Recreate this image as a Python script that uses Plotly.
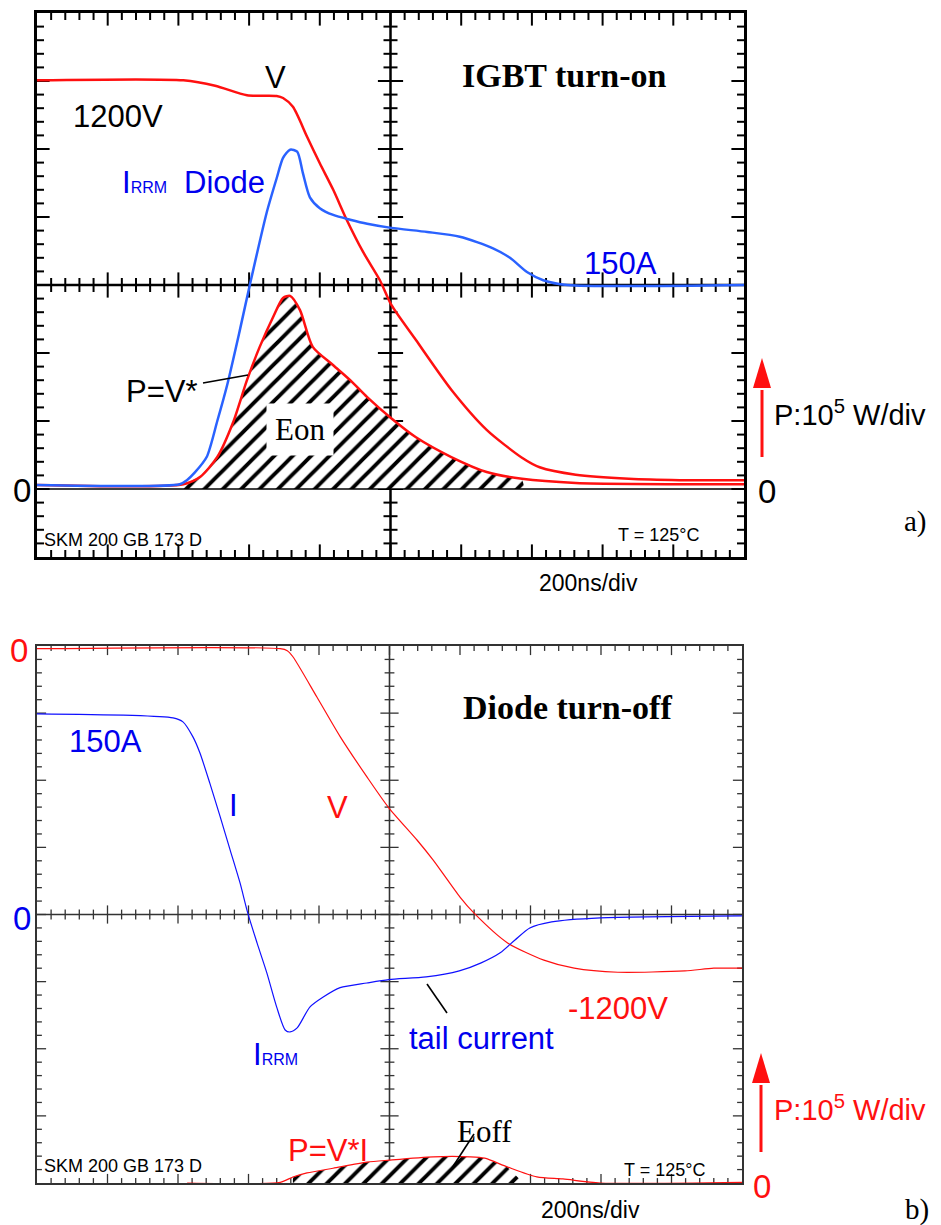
import numpy as np
import plotly.graph_objects as go

W, H = 941, 1225

# ---------------- DATA (oscilloscope divisions; x: 200 ns/div, y: div) ----------------
# a) IGBT turn-on
t_v_on = [0, 2.07, 2.52, 2.97, 3.39, 3.48, 3.62, 3.82, 4.00, 4.19, 4.38, 4.61, 4.85,
          5.01, 5.36, 5.86, 6.36, 6.86, 7.11, 7.62, 8.37, 9.09, 10]
v_on = [7.01, 7.01, 6.93, 6.79, 6.78, 6.75, 6.62, 6.18, 5.79, 5.40, 4.96, 4.49, 4.07,
        3.71, 3.19, 2.46, 1.87, 1.46, 1.32, 1.21, 1.15, 1.13, 1.13]

t_i_on = [0, 2.02, 2.12, 2.23, 2.40, 2.55, 2.69, 2.87, 3.01, 3.25, 3.39, 3.48,
          3.58, 3.68, 3.76, 3.86, 4.00, 4.19, 4.43, 4.67, 5.01, 5.52, 5.98, 6.45,
          6.69, 6.93, 7.16, 7.50, 10]
i_on = [1.06, 1.07, 1.13, 1.24, 1.47, 2.00, 2.53, 3.34, 4.00, 5.07, 5.57, 5.87,
        5.99, 5.96, 5.65, 5.29, 5.13, 5.03, 4.96, 4.90, 4.84, 4.78, 4.71, 4.54,
        4.40, 4.19, 4.07, 4.00, 4.00]

t_p_on = [0, 2.07, 2.31, 2.55, 2.77, 2.97, 3.15, 3.34, 3.48, 3.58, 3.72, 3.90, 4.19,
          4.43, 4.67, 5.01, 5.36, 5.86, 6.36, 6.86, 7.62, 10]
p_on = [1.06, 1.07, 1.18, 1.47, 1.97, 2.60, 3.09, 3.53, 3.81, 3.84, 3.63, 3.09, 2.82,
        2.60, 2.35, 2.04, 1.76, 1.47, 1.25, 1.15, 1.09, 1.07]

# b) Diode turn-off
t_v_off = [0, 3.45, 3.55, 3.63, 3.97, 4.30, 4.68, 4.99, 5.39, 5.62, 6.00, 6.20, 6.67,
           7.19, 7.62, 8.24, 9.19, 9.60, 10]
v_off = [7.96, 7.96, 7.93, 7.84, 7.24, 6.65, 6.05, 5.59, 5.11, 4.81, 4.26, 4.02, 3.58,
         3.32, 3.20, 3.14, 3.16, 3.20, 3.20]

t_i_off = [0, 1.93, 2.07, 2.21, 2.31, 2.45, 2.60, 2.74, 2.88, 2.99, 3.12, 3.26, 3.40,
           3.52, 3.59, 3.69, 3.87, 4.06, 4.30, 4.68, 4.99, 5.52, 5.99, 6.30, 6.57,
           6.78, 6.99, 7.30, 7.99, 10]
i_off = [6.99, 6.93, 6.87, 6.65, 6.41, 5.96, 5.45, 4.96, 4.47, 4.02, 3.58, 3.13, 2.62,
         2.28, 2.25, 2.31, 2.62, 2.77, 2.91, 2.98, 3.03, 3.07, 3.16, 3.28, 3.43,
         3.62, 3.80, 3.89, 3.95, 3.98]

t_p_off = [2.13, 3.45, 3.63, 3.83, 4.20, 4.68, 4.99, 5.62, 6.14, 6.35, 6.67, 7.09,
           7.46, 7.99, 10]
p_off = [0.0, 0.01, 0.09, 0.15, 0.22, 0.31, 0.34, 0.39, 0.39, 0.37, 0.24, 0.09,
         0.06, 0.0, 0.01]

# zero references (div) and hatched energy windows (div)
ZERO_P_ON, ZERO_P_OFF = 1.0, 0.0
EON_WIN = (2.07, 6.9)
EOFF_WIN = (3.63, 6.9)

# graticule: 10 x 8 divisions, 5 sub-divisions
X_DIV, Y_DIV, SUB_DIV = 10, 8, 5

# ---------------- STYLE ----------------
RED = "#ff1010"
BLUE_A = "#2a62ff"
BLUE_B = "#1010ff"
SANS = "Arial, Liberation Sans, sans-serif"
SERIF = "Times New Roman, Liberation Serif, serif"

# panel pixel boxes (left, right, top, bottom)
TOP = (37, 744, 13, 557)
BOT = (37, 742, 646, 1183)


def dom(box):
    l, r, t, b = box
    return [l / W, r / W], [1 - b / H, 1 - t / H]


def P(x, y):
    return x / W, 1 - y / H


fig = go.Figure()


def frame_axis(domain, rng, color, lw):
    return dict(domain=domain, range=rng, showline=True, linecolor=color, linewidth=lw,
                mirror=True, ticks="", showticklabels=False,
                showgrid=False, zeroline=False, fixedrange=True)


xd, yd = dom(TOP)
xd2, yd2 = dom(BOT)
layout_axes = dict(
    xaxis=frame_axis(xd, [0, X_DIV], "black", 2.5),
    yaxis=frame_axis(yd, [0, Y_DIV], "black", 2.5),
    xaxis2=frame_axis(xd2, [0, X_DIV], "#333333", 1.6),
    yaxis2=frame_axis(yd2, [0, Y_DIV], "#333333", 1.6),
)
layout_axes["xaxis"]["anchor"] = "y"
layout_axes["yaxis"]["anchor"] = "x"
layout_axes["xaxis2"]["anchor"] = "y2"
layout_axes["yaxis2"]["anchor"] = "x2"

# graticule tick positions
step = 1 / SUB_DIV
minor_x = [v for v in np.round(np.arange(step, X_DIV, step), 3) if abs(v - round(v)) > 1e-6]
major_x = list(range(1, X_DIV))
minor_y = [v for v in np.round(np.arange(step, Y_DIV, step), 3) if abs(v - round(v)) > 1e-6]
major_y = list(range(1, Y_DIV))


def graticule_ticks(xa, ya, color, w, smin, smaj):
    out = []
    groups = []
    for yline in (0, Y_DIV / 2, Y_DIV):      # horizontal lines: bottom, centre, top
        groups.append((minor_x, [yline] * len(minor_x), "line-ns", smin))
        groups.append((major_x, [yline] * len(major_x), "line-ns", smaj))
    for xline in (0, X_DIV / 2, X_DIV):      # vertical lines: left, centre, right
        groups.append(([xline] * len(minor_y), minor_y, "line-ew", smin))
        groups.append(([xline] * len(major_y), major_y, "line-ew", smaj))
    for xs, ys, sym, s in groups:
        out.append(go.Scatter(x=xs, y=ys, xaxis=xa, yaxis=ya, mode="markers",
                              hoverinfo="skip", cliponaxis=True,
                              marker=dict(symbol=sym, size=s, color=color,
                                          line=dict(color=color, width=w))))
    return out


for tr in graticule_ticks("x", "y", "black", 2, 10, 18):
    fig.add_trace(tr)
for tr in graticule_ticks("x2", "y2", "#333333", 1.3, 7, 13):
    fig.add_trace(tr)


def hatch_poly(ts, ps, win, base):
    xs = [win[0]] + [t for t in ts if win[0] <= t <= win[1]] + [win[1], win[0]]
    ys = [base] + [p for t, p in zip(ts, ps) if win[0] <= t <= win[1]] + [base, base]
    return xs, ys


PATTERN = dict(shape="/", fgcolor="black", bgcolor="white", size=13, solidity=0.3,
               fillmode="replace")

hx, hy = hatch_poly(t_p_on, p_on, EON_WIN, ZERO_P_ON)
fig.add_trace(go.Scatter(x=hx, y=hy, xaxis="x", yaxis="y", mode="lines", fill="toself",
                         line=dict(width=0), fillcolor="rgba(255,255,255,0)",
                         fillpattern=PATTERN, hoverinfo="skip"))
hx2, hy2 = hatch_poly(t_p_off, p_off, EOFF_WIN, ZERO_P_OFF)
fig.add_trace(go.Scatter(x=hx2, y=hy2, xaxis="x2", yaxis="y2", mode="lines", fill="toself",
                         line=dict(width=0), fillcolor="rgba(255,255,255,0)",
                         fillpattern=PATTERN, hoverinfo="skip"))


def curve(xs, ys, xa, ya, color, w):
    return go.Scatter(x=xs, y=ys, xaxis=xa, yaxis=ya, mode="lines",
                      line=dict(color=color, width=w, shape="spline", smoothing=0.7))


# curves, panel a
fig.add_trace(curve(t_v_on, v_on, "x", "y", RED, 2.5))
fig.add_trace(curve(t_p_on, p_on, "x", "y", RED, 2.5))
fig.add_trace(curve(t_i_on, i_on, "x", "y", BLUE_A, 2.5))
# curves, panel b
fig.add_trace(curve(t_v_off, v_off, "x2", "y2", RED, 1.2))
fig.add_trace(curve(t_p_off, p_off, "x2", "y2", RED, 1.2))
fig.add_trace(curve(t_i_off, i_off, "x2", "y2", BLUE_B, 1.2))

shapes = []
# centre cross lines
for xa, ya, col, w in [("x", "y", "black", 2.5), ("x2", "y2", "#333333", 1.6)]:
    shapes.append(dict(type="line", xref=xa, yref=ya, x0=X_DIV / 2, x1=X_DIV / 2,
                       y0=0, y1=Y_DIV, line=dict(color=col, width=w), layer="below"))
    shapes.append(dict(type="line", xref=xa, yref=ya, x0=0, x1=X_DIV,
                       y0=Y_DIV / 2, y1=Y_DIV / 2, line=dict(color=col, width=w),
                       layer="below"))
# zero line panel a
shapes.append(dict(type="line", xref="x", yref="y", x0=0, x1=X_DIV, y0=ZERO_P_ON,
                   y1=ZERO_P_ON, line=dict(color="black", width=1.5)))


def seg(p0, p1, color="black", w=1.6):
    x0, y0 = P(*p0)
    x1, y1 = P(*p1)
    return dict(type="line", xref="paper", yref="paper", x0=x0, y0=y0, x1=x1, y1=y1,
                line=dict(color=color, width=w))


# leader lines
shapes.append(seg((203, 383), (248, 375)))
shapes.append(seg((427, 984), (447, 1013)))
shapes.append(seg((474, 1134), (452, 1168)))


def arrow(x, y_bottom, y_head_base, y_tip, half_w=9):
    out = [seg((x, y_bottom), (x, y_head_base + 2), RED, 3)]
    pts = [P(x - half_w, y_head_base), P(x + half_w, y_head_base), P(x, y_tip)]
    path = "M {} {} L {} {} L {} {} Z".format(*[c for p in pts for c in p])
    out.append(dict(type="path", xref="paper", yref="paper", path=path,
                    fillcolor=RED, line=dict(color=RED, width=0)))
    return out


shapes += arrow(762, 457, 388, 358)
shapes += arrow(761, 1152, 1083, 1053)

ann = []


def txt(x, y, text, size=31, color="black", family=SANS, xanchor="center", **kw):
    px, py = P(x, y)
    d = dict(x=px, y=py, xref="paper", yref="paper", text=text, showarrow=False,
             xanchor=xanchor, yanchor="middle",
             font=dict(family=family, size=size, color=color))
    d.update(kw)
    ann.append(d)


SUB = "<span style='font-size:16px'>RRM</span>"
# panel a
txt(275, 78, "V")
txt(118, 116, "1200V")
txt(144, 182, "I" + SUB, color="#0000ee")
txt(224, 182, "Diode", color="#0000ee")
txt(564, 76, "<b>IGBT turn-on</b>", size=34, family=SERIF)
txt(620, 263, "150A", color="#0000ee")
txt(162, 391, "P=V*")
txt(300, 429, "Eon", family=SERIF, bgcolor="white", borderpad=8)
txt(42, 540, "SKM 200 GB 173 D", size=18, xanchor="left")
txt(658, 535, "T = 125°C", size=18)
txt(588, 583, "200ns/div", size=23)
txt(22, 491, "0", size=33)
txt(767, 492, "0", size=33)
txt(772, 413, "P:10<sup>5</sup> W/div", size=29, xanchor="left")
txt(915, 521, "a)", size=29, family=SERIF)
# panel b
txt(19, 650, "0", size=33, color=RED)
txt(22, 918, "0", size=33, color="#0000ee")
txt(105, 741, "150A", color="#0000ee")
txt(233, 805, "I", color="#0000ee")
txt(337, 807, "V", color=RED)
txt(567, 707, "<b>Diode turn-off</b>", size=34, family=SERIF)
txt(275, 1054, "I" + SUB, color="#0000ee")
txt(481, 1038, "tail current", color="#0000ee")
txt(618, 1008, "-1200V", color=RED)
txt(328, 1150, "P=V*I", color=RED)
txt(484, 1131, "Eoff", family=SERIF)
txt(42, 1166, "SKM 200 GB 173 D", size=18, xanchor="left")
txt(664, 1170, "T = 125°C", size=18)
txt(590, 1210, "200ns/div", size=23)
txt(762, 1186, "0", size=33, color=RED)
txt(772, 1108, "P:10<sup>5</sup> W/div", size=29, xanchor="left", color=RED)
txt(917, 1209, "b)", size=29, family=SERIF)

fig.update_layout(width=W, height=H, margin=dict(l=0, r=0, t=0, b=0),
                  paper_bgcolor="white", plot_bgcolor="white", showlegend=False,
                  shapes=shapes, annotations=ann, **layout_axes)

fig.write_html("out.html", config={"displayModeBar": False},
               post_script="document.body.style.margin='0';"
                           "document.body.style.overflow='hidden';")
